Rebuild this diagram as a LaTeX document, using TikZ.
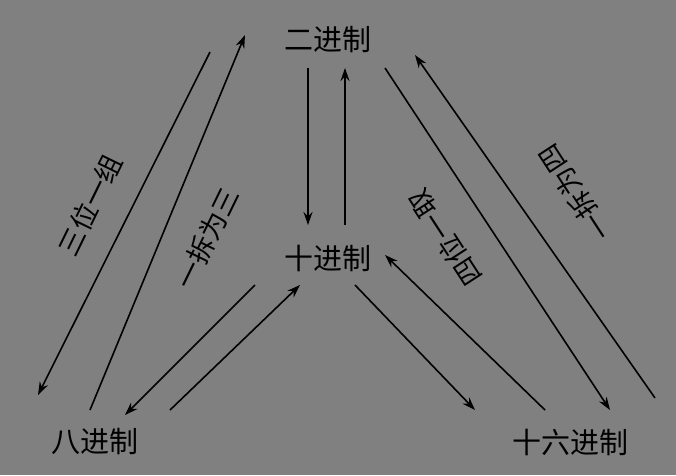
\documentclass[tikz,border=0pt]{standalone}
\usepackage{fontspec}
\newfontfamily\cjk{Noto Sans CJK SC}
\usetikzlibrary{arrows.meta}
\definecolor{bg}{HTML}{808080}
\begin{document}
\begin{tikzpicture}[x=1pt,y=-1pt,
    num/.style={font=\cjk\fontsize{29}{31}\selectfont, inner sep=1pt},
    lab/.style={font=\cjk\fontsize{27}{29}\selectfont, inner sep=1pt},
    conv/.style={draw, line width=1.6pt, -{Stealth[length=13pt,width=9pt]}}]
    \fill[bg] (0,0) rectangle (676,475);
    \useasboundingbox (0,0) rectangle (676,475);
    \node[num] (bin) at (328,40) {二进制};
    \node[num] (dec) at (328,258) {十进制};
    \node[num] (oct) at (95,442) {八进制};
    \node[num] (hex) at (570,442) {十六进制};
    % binary <-> octal
    \coordinate (bo1) at (210,52);  \coordinate (bo2) at (38,395);
    \coordinate (ob1) at (90,410);  \coordinate (ob2) at (245,35);
    \draw[conv] (bo1) -- (bo2);
    \draw[conv] (ob1) -- (ob2);
    % binary <-> decimal
    \coordinate (bd1) at (308,68);  \coordinate (bd2) at (308,225);
    \coordinate (db1) at (345,225); \coordinate (db2) at (345,68);
    \draw[conv] (bd1) -- (bd2);
    \draw[conv] (db1) -- (db2);
    % binary <-> hex
    \coordinate (bh1) at (385,68);  \coordinate (bh2) at (610,410);
    \coordinate (hb1) at (655,398); \coordinate (hb2) at (415,55);
    \draw[conv] (bh1) -- (bh2);
    \draw[conv] (hb1) -- (hb2);
    % decimal <-> octal
    \coordinate (do1) at (255,285); \coordinate (do2) at (125,415);
    \coordinate (od1) at (170,410); \coordinate (od2) at (300,285);
    \draw[conv] (do1) -- (do2);
    \draw[conv] (od1) -- (od2);
    % decimal <-> hex
    \coordinate (dh1) at (355,285); \coordinate (dh2) at (475,410);
    \coordinate (hd1) at (545,410); \coordinate (hd2) at (385,255);
    \draw[conv] (dh1) -- (dh2);
    \draw[conv] (hd1) -- (hd2);
    % labels
    \node[lab, rotate=64] (l1) at (90,205) {三位一组};
    \node[lab, rotate=64] (l2) at (207,238) {一拆为三};
    \node[lab, rotate=123] (l3) at (445,238) {四位一取};
    \node[lab, rotate=123] (l4) at (575,193) {一拆为四};
\end{tikzpicture}
\end{document}
